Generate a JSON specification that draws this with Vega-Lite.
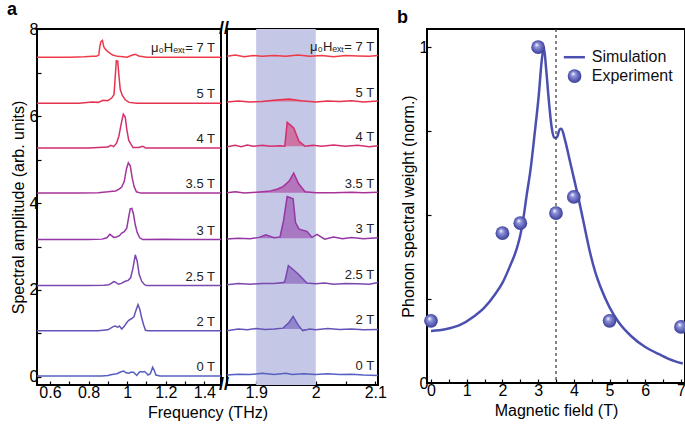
{
  "$schema": "https://vega.github.io/schema/vega-lite/v6.json",
  "padding": {"left": 6, "top": 0, "right": 0, "bottom": 2},
  "config": {
    "font": "Liberation Sans",
    "view": {"stroke": "#000", "strokeWidth": 2},
    "axis": {"domain": false, "grid": false, "ticks": true, "tickColor": "#000", "tickSize": -4, "tickWidth": 1.2,
      "labelColor": "#000", "labelFontSize": 16, "labelFont": "Liberation Sans", "titleFont": "Liberation Sans",
      "titleFontSize": 16, "titleFontWeight": "normal", "titleColor": "#000", "labelPadding": 3, "labelOverlap": false},
    "text": {"font": "Liberation Sans"},
    "title": {"font": "Liberation Sans", "color": "#000"}
  },
  "datasets": {
    "left": [
      {"h":"0 T","f":0.533,"a":0.02},{"h":"0 T","f":0.6,"a":0.02},{"h":"0 T","f":0.7,"a":0.02},{"h":"0 T","f":0.8,"a":0.02},{"h":"0 T","f":0.869,"a":0.02},{"h":"0 T","f":0.9,"a":0.03},{"h":"0 T","f":0.921,"a":0.05},{"h":"0 T","f":0.947,"a":0.07},{"h":"0 T","f":0.965,"a":0.11},{"h":"0 T","f":0.982,"a":0.13},{"h":"0 T","f":0.995,"a":0.09},{"h":"0 T","f":1.008,"a":0.08},{"h":"0 T","f":1.022,"a":0.11},{"h":"0 T","f":1.034,"a":0.1},{"h":"0 T","f":1.05,"a":0.03},{"h":"0 T","f":1.06,"a":0.09},{"h":"0 T","f":1.068,"a":0.12},{"h":"0 T","f":1.08,"a":0.11},{"h":"0 T","f":1.09,"a":0.12},{"h":"0 T","f":1.1,"a":0.08},{"h":"0 T","f":1.108,"a":0.04},{"h":"0 T","f":1.12,"a":0.07},{"h":"0 T","f":1.132,"a":0.22},{"h":"0 T","f":1.14,"a":0.15},{"h":"0 T","f":1.149,"a":0.04},{"h":"0 T","f":1.17,"a":0.02},{"h":"0 T","f":1.25,"a":0.02},{"h":"0 T","f":1.35,"a":0.02},{"h":"0 T","f":1.486,"a":0.02},
      {"h":"2 T","f":0.533,"a":1.06},{"h":"2 T","f":0.7,"a":1.06},{"h":"2 T","f":0.85,"a":1.06},{"h":"2 T","f":0.9,"a":1.08},{"h":"2 T","f":0.915,"a":1.12},{"h":"2 T","f":0.93,"a":1.16},{"h":"2 T","f":0.94,"a":1.17},{"h":"2 T","f":0.95,"a":1.14},{"h":"2 T","f":0.96,"a":1.17},{"h":"2 T","f":0.972,"a":1.1},{"h":"2 T","f":0.985,"a":1.16},{"h":"2 T","f":0.998,"a":1.25},{"h":"2 T","f":1.008,"a":1.3},{"h":"2 T","f":1.02,"a":1.33},{"h":"2 T","f":1.035,"a":1.38},{"h":"2 T","f":1.045,"a":1.52},{"h":"2 T","f":1.056,"a":1.66},{"h":"2 T","f":1.065,"a":1.56},{"h":"2 T","f":1.075,"a":1.36},{"h":"2 T","f":1.085,"a":1.2},{"h":"2 T","f":1.095,"a":1.07},{"h":"2 T","f":1.11,"a":1.06},{"h":"2 T","f":1.2,"a":1.06},{"h":"2 T","f":1.3,"a":1.06},{"h":"2 T","f":1.486,"a":1.06},
      {"h":"2.5 T","f":0.533,"a":2.1},{"h":"2.5 T","f":0.8,"a":2.1},{"h":"2.5 T","f":0.88,"a":2.11},{"h":"2.5 T","f":0.905,"a":2.12},{"h":"2.5 T","f":0.918,"a":2.15},{"h":"2.5 T","f":0.93,"a":2.19},{"h":"2.5 T","f":0.94,"a":2.18},{"h":"2.5 T","f":0.955,"a":2.13},{"h":"2.5 T","f":0.97,"a":2.15},{"h":"2.5 T","f":0.99,"a":2.2},{"h":"2.5 T","f":1.005,"a":2.22},{"h":"2.5 T","f":1.018,"a":2.28},{"h":"2.5 T","f":1.03,"a":2.5},{"h":"2.5 T","f":1.042,"a":2.81},{"h":"2.5 T","f":1.052,"a":2.66},{"h":"2.5 T","f":1.062,"a":2.36},{"h":"2.5 T","f":1.075,"a":2.2},{"h":"2.5 T","f":1.09,"a":2.12},{"h":"2.5 T","f":1.1,"a":2.1},{"h":"2.5 T","f":1.2,"a":2.1},{"h":"2.5 T","f":1.486,"a":2.1},
      {"h":"3 T","f":0.533,"a":3.16},{"h":"3 T","f":0.8,"a":3.16},{"h":"3 T","f":0.87,"a":3.17},{"h":"3 T","f":0.895,"a":3.2},{"h":"3 T","f":0.91,"a":3.28},{"h":"3 T","f":0.92,"a":3.25},{"h":"3 T","f":0.93,"a":3.21},{"h":"3 T","f":0.945,"a":3.22},{"h":"3 T","f":0.96,"a":3.25},{"h":"3 T","f":0.972,"a":3.31},{"h":"3 T","f":0.985,"a":3.34},{"h":"3 T","f":0.998,"a":3.42},{"h":"3 T","f":1.008,"a":3.68},{"h":"3 T","f":1.016,"a":3.87},{"h":"3 T","f":1.024,"a":3.88},{"h":"3 T","f":1.032,"a":3.76},{"h":"3 T","f":1.042,"a":3.5},{"h":"3 T","f":1.052,"a":3.32},{"h":"3 T","f":1.065,"a":3.2},{"h":"3 T","f":1.08,"a":3.16},{"h":"3 T","f":1.2,"a":3.17},{"h":"3 T","f":1.3,"a":3.16},{"h":"3 T","f":1.486,"a":3.16},
      {"h":"3.5 T","f":0.533,"a":4.23},{"h":"3.5 T","f":0.75,"a":4.23},{"h":"3.5 T","f":0.85,"a":4.24},{"h":"3.5 T","f":0.9,"a":4.26},{"h":"3.5 T","f":0.94,"a":4.28},{"h":"3.5 T","f":0.958,"a":4.32},{"h":"3.5 T","f":0.972,"a":4.37},{"h":"3.5 T","f":0.985,"a":4.5},{"h":"3.5 T","f":0.996,"a":4.78},{"h":"3.5 T","f":1.006,"a":4.93},{"h":"3.5 T","f":1.016,"a":4.86},{"h":"3.5 T","f":1.026,"a":4.58},{"h":"3.5 T","f":1.036,"a":4.38},{"h":"3.5 T","f":1.048,"a":4.26},{"h":"3.5 T","f":1.07,"a":4.23},{"h":"3.5 T","f":1.2,"a":4.23},{"h":"3.5 T","f":1.486,"a":4.23},
      {"h":"4 T","f":0.533,"a":5.27},{"h":"4 T","f":0.8,"a":5.27},{"h":"4 T","f":0.9,"a":5.29},{"h":"4 T","f":0.915,"a":5.33},{"h":"4 T","f":0.93,"a":5.3},{"h":"4 T","f":0.945,"a":5.38},{"h":"4 T","f":0.957,"a":5.54},{"h":"4 T","f":0.968,"a":5.8},{"h":"4 T","f":0.98,"a":6.05},{"h":"4 T","f":0.99,"a":5.98},{"h":"4 T","f":0.998,"a":5.7},{"h":"4 T","f":1.008,"a":5.45},{"h":"4 T","f":1.018,"a":5.37},{"h":"4 T","f":1.03,"a":5.28},{"h":"4 T","f":1.06,"a":5.28},{"h":"4 T","f":1.08,"a":5.31},{"h":"4 T","f":1.095,"a":5.27},{"h":"4 T","f":1.2,"a":5.27},{"h":"4 T","f":1.486,"a":5.27},
      {"h":"5 T","f":0.533,"a":6.3},{"h":"5 T","f":0.75,"a":6.3},{"h":"5 T","f":0.82,"a":6.33},{"h":"5 T","f":0.85,"a":6.32},{"h":"5 T","f":0.875,"a":6.37},{"h":"5 T","f":0.9,"a":6.36},{"h":"5 T","f":0.92,"a":6.42},{"h":"5 T","f":0.932,"a":6.5},{"h":"5 T","f":0.938,"a":6.9},{"h":"5 T","f":0.944,"a":7.28},{"h":"5 T","f":0.951,"a":7.27},{"h":"5 T","f":0.957,"a":6.95},{"h":"5 T","f":0.964,"a":6.62},{"h":"5 T","f":0.975,"a":6.48},{"h":"5 T","f":0.99,"a":6.38},{"h":"5 T","f":1.01,"a":6.32},{"h":"5 T","f":1.05,"a":6.3},{"h":"5 T","f":1.2,"a":6.3},{"h":"5 T","f":1.486,"a":6.3},
      {"h":"7 T","f":0.533,"a":7.36},{"h":"7 T","f":0.7,"a":7.36},{"h":"7 T","f":0.78,"a":7.37},{"h":"7 T","f":0.82,"a":7.38},{"h":"7 T","f":0.84,"a":7.38},{"h":"7 T","f":0.853,"a":7.41},{"h":"7 T","f":0.858,"a":7.6},{"h":"7 T","f":0.864,"a":7.72},{"h":"7 T","f":0.872,"a":7.75},{"h":"7 T","f":0.879,"a":7.6},{"h":"7 T","f":0.888,"a":7.54},{"h":"7 T","f":0.905,"a":7.47},{"h":"7 T","f":0.925,"a":7.41},{"h":"7 T","f":0.95,"a":7.38},{"h":"7 T","f":0.98,"a":7.37},{"h":"7 T","f":1.0,"a":7.36},{"h":"7 T","f":1.02,"a":7.4},{"h":"7 T","f":1.04,"a":7.43},{"h":"7 T","f":1.06,"a":7.39},{"h":"7 T","f":1.1,"a":7.36},{"h":"7 T","f":1.486,"a":7.36}
    ],
    "right": [
      {"h":"0 T","f":1.851,"a":0.04},{"h":"0 T","f":1.87,"a":0.06},{"h":"0 T","f":1.89,"a":0.05},{"h":"0 T","f":1.91,"a":0.08},{"h":"0 T","f":1.93,"a":0.05},{"h":"0 T","f":1.95,"a":0.08},{"h":"0 T","f":1.96,"a":0.05},{"h":"0 T","f":1.98,"a":0.07},{"h":"0 T","f":2.0,"a":0.05},{"h":"0 T","f":2.02,"a":0.07},{"h":"0 T","f":2.04,"a":0.05},{"h":"0 T","f":2.06,"a":0.06},{"h":"0 T","f":2.08,"a":0.04},{"h":"0 T","f":2.1045,"a":0.03},
      {"h":"2 T","f":1.851,"a":1.06},{"h":"2 T","f":1.87,"a":1.1},{"h":"2 T","f":1.885,"a":1.08},{"h":"2 T","f":1.9,"a":1.11},{"h":"2 T","f":1.915,"a":1.09},{"h":"2 T","f":1.93,"a":1.1},{"h":"2 T","f":1.945,"a":1.12},{"h":"2 T","f":1.955,"a":1.25},{"h":"2 T","f":1.962,"a":1.39},{"h":"2 T","f":1.97,"a":1.2},{"h":"2 T","f":1.978,"a":1.06},{"h":"2 T","f":1.99,"a":1.1},{"h":"2 T","f":2.0,"a":1.08},{"h":"2 T","f":2.02,"a":1.11},{"h":"2 T","f":2.04,"a":1.09},{"h":"2 T","f":2.06,"a":1.1},{"h":"2 T","f":2.08,"a":1.08},{"h":"2 T","f":2.1045,"a":1.09},
      {"h":"2.5 T","f":1.851,"a":2.12},{"h":"2.5 T","f":1.87,"a":2.15},{"h":"2.5 T","f":1.89,"a":2.13},{"h":"2.5 T","f":1.91,"a":2.15},{"h":"2.5 T","f":1.93,"a":2.15},{"h":"2.5 T","f":1.945,"a":2.17},{"h":"2.5 T","f":1.948,"a":2.19},{"h":"2.5 T","f":1.954,"a":2.56},{"h":"2.5 T","f":1.962,"a":2.47},{"h":"2.5 T","f":1.971,"a":2.36},{"h":"2.5 T","f":1.985,"a":2.16},{"h":"2.5 T","f":2.0,"a":2.14},{"h":"2.5 T","f":2.015,"a":2.16},{"h":"2.5 T","f":2.03,"a":2.13},{"h":"2.5 T","f":2.05,"a":2.15},{"h":"2.5 T","f":2.07,"a":2.14},{"h":"2.5 T","f":2.09,"a":2.13},{"h":"2.5 T","f":2.1045,"a":2.17},
      {"h":"3 T","f":1.851,"a":3.17},{"h":"3 T","f":1.87,"a":3.19},{"h":"3 T","f":1.89,"a":3.18},{"h":"3 T","f":1.905,"a":3.21},{"h":"3 T","f":1.916,"a":3.27},{"h":"3 T","f":1.93,"a":3.2},{"h":"3 T","f":1.94,"a":3.22},{"h":"3 T","f":1.946,"a":3.6},{"h":"3 T","f":1.952,"a":4.15},{"h":"3 T","f":1.962,"a":4.1},{"h":"3 T","f":1.966,"a":3.55},{"h":"3 T","f":1.972,"a":3.4},{"h":"3 T","f":1.985,"a":3.35},{"h":"3 T","f":1.994,"a":3.21},{"h":"3 T","f":2.002,"a":3.28},{"h":"3 T","f":2.015,"a":3.17},{"h":"3 T","f":2.03,"a":3.22},{"h":"3 T","f":2.045,"a":3.18},{"h":"3 T","f":2.06,"a":3.21},{"h":"3 T","f":2.08,"a":3.18},{"h":"3 T","f":2.1045,"a":3.2},
      {"h":"3.5 T","f":1.851,"a":4.24},{"h":"3.5 T","f":1.865,"a":4.26},{"h":"3.5 T","f":1.88,"a":4.23},{"h":"3.5 T","f":1.9,"a":4.25},{"h":"3.5 T","f":1.921,"a":4.27},{"h":"3.5 T","f":1.935,"a":4.32},{"h":"3.5 T","f":1.945,"a":4.38},{"h":"3.5 T","f":1.955,"a":4.5},{"h":"3.5 T","f":1.963,"a":4.69},{"h":"3.5 T","f":1.971,"a":4.45},{"h":"3.5 T","f":1.982,"a":4.26},{"h":"3.5 T","f":2.0,"a":4.24},{"h":"3.5 T","f":2.03,"a":4.24},{"h":"3.5 T","f":2.06,"a":4.25},{"h":"3.5 T","f":2.08,"a":4.24},{"h":"3.5 T","f":2.1045,"a":4.25},
      {"h":"4 T","f":1.851,"a":5.3},{"h":"4 T","f":1.865,"a":5.33},{"h":"4 T","f":1.875,"a":5.3},{"h":"4 T","f":1.885,"a":5.34},{"h":"4 T","f":1.895,"a":5.31},{"h":"4 T","f":1.91,"a":5.33},{"h":"4 T","f":1.925,"a":5.31},{"h":"4 T","f":1.94,"a":5.32},{"h":"4 T","f":1.948,"a":5.31},{"h":"4 T","f":1.952,"a":5.86},{"h":"4 T","f":1.963,"a":5.73},{"h":"4 T","f":1.972,"a":5.42},{"h":"4 T","f":1.982,"a":5.31},{"h":"4 T","f":1.995,"a":5.33},{"h":"4 T","f":2.01,"a":5.31},{"h":"4 T","f":2.03,"a":5.34},{"h":"4 T","f":2.05,"a":5.31},{"h":"4 T","f":2.07,"a":5.33},{"h":"4 T","f":2.09,"a":5.3},{"h":"4 T","f":2.1045,"a":5.32},
      {"h":"5 T","f":1.851,"a":6.33},{"h":"5 T","f":1.87,"a":6.35},{"h":"5 T","f":1.89,"a":6.33},{"h":"5 T","f":1.91,"a":6.34},{"h":"5 T","f":1.93,"a":6.37},{"h":"5 T","f":1.955,"a":6.4},{"h":"5 T","f":1.975,"a":6.36},{"h":"5 T","f":2.0,"a":6.33},{"h":"5 T","f":2.02,"a":6.35},{"h":"5 T","f":2.04,"a":6.34},{"h":"5 T","f":2.06,"a":6.36},{"h":"5 T","f":2.08,"a":6.33},{"h":"5 T","f":2.1045,"a":6.35},
      {"h":"7 T","f":1.851,"a":7.38},{"h":"7 T","f":1.865,"a":7.41},{"h":"7 T","f":1.88,"a":7.37},{"h":"7 T","f":1.895,"a":7.4},{"h":"7 T","f":1.91,"a":7.38},{"h":"7 T","f":1.93,"a":7.4},{"h":"7 T","f":1.95,"a":7.38},{"h":"7 T","f":1.97,"a":7.41},{"h":"7 T","f":1.99,"a":7.38},{"h":"7 T","f":2.01,"a":7.4},{"h":"7 T","f":2.03,"a":7.37},{"h":"7 T","f":2.05,"a":7.4},{"h":"7 T","f":2.07,"a":7.39},{"h":"7 T","f":2.09,"a":7.38},{"h":"7 T","f":2.1045,"a":7.4}
    ],
    "labels": [
      {"h":"0 T","t":"0 T","bL":0.02,"bR":0.05},
      {"h":"2 T","t":"2 T","bL":1.06,"bR":1.1},
      {"h":"2.5 T","t":"2.5 T","bL":2.1,"bR":2.14},
      {"h":"3 T","t":"3 T","bL":3.16,"bR":3.19},
      {"h":"3.5 T","t":"3.5 T","bL":4.23,"bR":4.24},
      {"h":"4 T","t":"4 T","bL":5.27,"bR":5.31},
      {"h":"5 T","t":"5 T","bL":6.3,"bR":6.34},
      {"h":"7 T","t":"μ₀Hₑₓₜ= 7 T","bL":7.36,"bR":7.39}
    ],
    "experiment": [
      {"B":0,"w":0.185},{"B":2,"w":0.446},{"B":2.5,"w":0.476},{"B":3,"w":1.0},{"B":3.5,"w":0.506},{"B":4,"w":0.554},{"B":5,"w":0.185},{"B":7,"w":0.167}
    ],
    "simulation": [
      {"B":0,"w":0.155},{"B":0.4,"w":0.16},{"B":0.8,"w":0.172},{"B":1.2,"w":0.198},{"B":1.5,"w":0.225},{"B":1.8,"w":0.265},{"B":2.0,"w":0.298},{"B":2.2,"w":0.345},{"B":2.4,"w":0.4},{"B":2.5,"w":0.44},{"B":2.6,"w":0.5},{"B":2.68,"w":0.56},{"B":2.78,"w":0.63},{"B":2.9,"w":0.74},{"B":3.02,"w":0.86},{"B":3.1,"w":0.96},{"B":3.16,"w":1.0},{"B":3.22,"w":0.94},{"B":3.3,"w":0.84},{"B":3.38,"w":0.76},{"B":3.45,"w":0.73},{"B":3.53,"w":0.732},{"B":3.6,"w":0.755},{"B":3.65,"w":0.757},{"B":3.76,"w":0.72},{"B":3.88,"w":0.665},{"B":4.0,"w":0.61},{"B":4.15,"w":0.54},{"B":4.28,"w":0.475},{"B":4.45,"w":0.39},{"B":4.6,"w":0.33},{"B":4.75,"w":0.285},{"B":5.0,"w":0.225},{"B":5.26,"w":0.18},{"B":5.6,"w":0.14},{"B":6.0,"w":0.107},{"B":6.4,"w":0.085},{"B":6.8,"w":0.066},{"B":7.05,"w":0.058}
    ]
  },
  "bounds": "flush",
  "spacing": 6,
  "resolve": {"scale": {"x": "independent", "y": "independent", "color": "independent"}},
  "hconcat": [
    {
      "width": 184, "height": 356,
      "title": {"text": "a", "anchor": "start", "frame": "bounds", "fontSize": 18, "fontWeight": "bold", "offset": 1, "dx": -3},
      "layer": [
        {
          "data": {"name": "left"},
          "mark": {"type": "line", "strokeWidth": 1.5, "clip": true},
          "encoding": {
            "x": {"field": "f", "type": "quantitative", "scale": {"domain": [0.533, 1.486], "nice": false, "zero": false},
              "axis": {"title": "Frequency (THz)", "titleX": 170.5, "titleAlign": "center", "values": [0.6,0.7,0.8,0.9,1,1.1,1.2,1.3,1.4], "labelExpr": "round(datum.value*10)%2==0 ? format(datum.value,'') : ''"}},
            "y": {"field": "a", "type": "quantitative", "scale": {"domain": [-0.19, 8.01], "nice": false, "zero": false},
              "axis": {"title": "Spectral amplitude (arb. units)", "values": [0,1,2,3,4,5,6,7,8], "labelExpr": "datum.value%2==0 ? format(datum.value,'') : ''", "titlePadding": 3}},
            "color": {"field": "h", "type": "nominal", "legend": null,
              "scale": {"domain": ["0 T","2 T","2.5 T","3 T","3.5 T","4 T","5 T","7 T"], "range": ["#5560c0","#6652b8","#7b48b0","#9436a6","#a8329a","#d32f6e","#e5334f","#ef3a48"]}}
          }
        },
        {
          "data": {"name": "labels"},
          "mark": {"type": "text", "align": "right", "baseline": "bottom", "dy": -2, "fontSize": 13, "color": "#222"},
          "encoding": {
            "x": {"datum": 1.455, "axis": {"title": "Frequency (THz)", "titleX": 170.5, "titleAlign": "center", "values": [0.6,0.7,0.8,0.9,1,1.1,1.2,1.3,1.4], "labelExpr": "round(datum.value*10)%2==0 ? format(datum.value,'') : ''"}},
            "y": {"field": "bL", "type": "quantitative", "axis": {"title": "Spectral amplitude (arb. units)", "values": [0,1,2,3,4,5,6,7,8], "labelExpr": "datum.value%2==0 ? format(datum.value,'') : ''", "titlePadding": 3}},
            "text": {"field": "t"}}
        },
        {
          "data": {"values": [{"y": 8.01}, {"y": -0.19}]},
          "mark": {"type": "text", "text": "//", "fontSize": 18, "fontWeight": "bold", "clip": false, "dx": 3, "align": "center", "baseline": "middle"},
          "encoding": {
            "x": {"datum": 1.486, "axis": {"title": "Frequency (THz)", "titleX": 170.5, "titleAlign": "center", "values": [0.6,0.7,0.8,0.9,1,1.1,1.2,1.3,1.4], "labelExpr": "round(datum.value*10)%2==0 ? format(datum.value,'') : ''"}},
            "y": {"field": "y", "type": "quantitative", "axis": {"title": "Spectral amplitude (arb. units)", "values": [0,1,2,3,4,5,6,7,8], "labelExpr": "datum.value%2==0 ? format(datum.value,'') : ''", "titlePadding": 3}}}
        }
      ]
    },
    {
      "width": 151, "height": 356,
      "layer": [
        {
          "data": {"values": [{"x1": 1.9, "x2": 2.0}]},
          "mark": {"type": "rect", "color": "#c4c7e6"},
          "encoding": {"x": {"field": "x1", "type": "quantitative", "scale": {"domain": [1.851, 2.1045], "nice": false, "zero": false},
              "axis": {"title": null, "values": [1.9,1.95,2,2.05,2.1], "labelExpr": "abs(datum.value*10-round(datum.value*10))<0.01 ? format(datum.value,'') : ''"}},
            "x2": {"field": "x2"}}
        },
        {
          "data": {"name": "right"},
          "transform": [
            {"filter": "datum.f >= 1.9 && datum.f <= 2.0 && datum.h != '0 T' && datum.h != '7 T'"},
            {"lookup": "h", "from": {"data": {"name": "labels"}, "key": "h", "fields": ["bR"]}}
          ],
          "mark": {"type": "area", "opacity": 0.55},
          "encoding": {
            "x": {"field": "f", "type": "quantitative", "axis": {"title": null, "values": [1.9,1.95,2,2.05,2.1], "labelExpr": "abs(datum.value*10-round(datum.value*10))<0.01 ? format(datum.value,'') : ''"}},
            "y": {"field": "a", "type": "quantitative", "scale": {"domain": [-0.19, 8.01], "nice": false, "zero": false}, "axis": null},
            "y2": {"field": "bR"},
            "color": {"field": "h", "type": "nominal", "legend": null,
              "scale": {"domain": ["0 T","2 T","2.5 T","3 T","3.5 T","4 T","5 T","7 T"], "range": ["#5560c0","#6652b8","#7b48b0","#9436a6","#a8329a","#d32f6e","#e5334f","#ef3a48"]}}
          }
        },
        {
          "data": {"name": "right"},
          "mark": {"type": "line", "strokeWidth": 1.5, "clip": true},
          "encoding": {
            "x": {"field": "f", "type": "quantitative", "axis": {"title": null, "values": [1.9,1.95,2,2.05,2.1], "labelExpr": "abs(datum.value*10-round(datum.value*10))<0.01 ? format(datum.value,'') : ''"}},
            "y": {"field": "a", "type": "quantitative", "axis": null},
            "color": {"field": "h", "type": "nominal", "legend": null}
          }
        },
        {
          "data": {"name": "labels"},
          "mark": {"type": "text", "align": "right", "baseline": "bottom", "dy": -2, "fontSize": 13, "color": "#222"},
          "encoding": {
            "x": {"datum": 2.098, "axis": {"title": null, "values": [1.9,1.95,2,2.05,2.1], "labelExpr": "abs(datum.value*10-round(datum.value*10))<0.01 ? format(datum.value,'') : ''"}},
            "y": {"field": "bR", "type": "quantitative", "axis": null},
            "text": {"field": "t"}}
        }
      ]
    },
    {
      "width": 37, "height": 354,
      "view": {"stroke": null},
      "data": {"values": [{}]},
      "mark": {"type": "point", "opacity": 0},
      "encoding": {}
    },
    {
      "width": 258, "height": 354,
      "title": {"text": "b", "anchor": "start", "frame": "bounds", "fontSize": 18, "fontWeight": "bold", "offset": 1, "dx": -3},
      "layer": [
        {
          "data": {"name": "simulation"},
          "mark": {"type": "line", "color": "#4b50b0", "strokeWidth": 2.5, "interpolate": "monotone"},
          "encoding": {
            "x": {"field": "B", "type": "quantitative", "scale": {"domain": [-0.112, 7.112], "nice": false, "zero": false},
              "axis": {"title": "Magnetic field (T)", "values": [0,0.5,1,1.5,2,2.5,3,3.5,4,4.5,5,5.5,6,6.5,7], "labelExpr": "datum.value%1==0 ? format(datum.value,'') : ''"}},
            "y": {"field": "w", "type": "quantitative", "scale": {"domain": [0, 1.054], "nice": false, "zero": false},
              "axis": {"title": "Phonon spectral weight (norm.)", "values": [0,0.25,0.5,0.75,1], "labelExpr": "datum.value==0 || datum.value==1 ? format(datum.value,'') : ''", "titlePadding": 3}}
          }
        },
        {
          "data": {"values": [{"x": 3.5}]},
          "mark": {"type": "rule", "strokeDash": [3, 3], "color": "#333", "strokeWidth": 1.2},
          "encoding": {"x": {"field": "x", "type": "quantitative",
            "axis": {"title": "Magnetic field (T)", "values": [0,0.5,1,1.5,2,2.5,3,3.5,4,4.5,5,5.5,6,6.5,7], "labelExpr": "datum.value%1==0 ? format(datum.value,'') : ''"}}}
        },
        {
          "data": {"name": "experiment"},
          "mark": {"type": "point", "shape": "circle", "filled": true, "size": 190, "opacity": 1, "clip": false,
            "fill": {"gradient": "radial", "x1": 0.38, "y1": 0.32, "r1": 0, "x2": 0.5, "y2": 0.5, "r2": 0.55,
              "stops": [{"offset": 0, "color": "#ffffff"}, {"offset": 0.3, "color": "#8e92da"}, {"offset": 1, "color": "#2f3490"}]}},
          "encoding": {
            "x": {"field": "B", "type": "quantitative", "axis": {"title": "Magnetic field (T)", "values": [0,0.5,1,1.5,2,2.5,3,3.5,4,4.5,5,5.5,6,6.5,7], "labelExpr": "datum.value%1==0 ? format(datum.value,'') : ''"}},
            "y": {"field": "w", "type": "quantitative", "axis": {"title": "Phonon spectral weight (norm.)", "values": [0,0.25,0.5,0.75,1], "labelExpr": "datum.value==0 || datum.value==1 ? format(datum.value,'') : ''", "titlePadding": 3}}}
        },
        {
          "data": {"values": [{}]},
          "mark": {"type": "rule", "color": "#4b50b0", "strokeWidth": 2.5},
          "encoding": {
            "x": {"datum": 3.72, "axis": {"title": "Magnetic field (T)", "values": [0,0.5,1,1.5,2,2.5,3,3.5,4,4.5,5,5.5,6,6.5,7], "labelExpr": "datum.value%1==0 ? format(datum.value,'') : ''"}},
            "x2": {"datum": 4.31},
            "y": {"datum": 0.97, "axis": {"title": "Phonon spectral weight (norm.)", "values": [0,0.25,0.5,0.75,1], "labelExpr": "datum.value==0 || datum.value==1 ? format(datum.value,'') : ''", "titlePadding": 3}}}
        },
        {
          "data": {"values": [{}]},
          "mark": {"type": "point", "shape": "circle", "filled": true, "size": 190, "opacity": 1,
            "fill": {"gradient": "radial", "x1": 0.38, "y1": 0.32, "r1": 0, "x2": 0.5, "y2": 0.5, "r2": 0.55,
              "stops": [{"offset": 0, "color": "#ffffff"}, {"offset": 0.3, "color": "#8e92da"}, {"offset": 1, "color": "#2f3490"}]}},
          "encoding": {
            "x": {"datum": 4.02, "axis": {"title": "Magnetic field (T)", "values": [0,0.5,1,1.5,2,2.5,3,3.5,4,4.5,5,5.5,6,6.5,7], "labelExpr": "datum.value%1==0 ? format(datum.value,'') : ''"}},
            "y": {"datum": 0.914, "axis": {"title": "Phonon spectral weight (norm.)", "values": [0,0.25,0.5,0.75,1], "labelExpr": "datum.value==0 || datum.value==1 ? format(datum.value,'') : ''", "titlePadding": 3}}}
        },
        {
          "data": {"values": [{"t": "Simulation", "y": 0.97}, {"t": "Experiment", "y": 0.914}]},
          "mark": {"type": "text", "align": "left", "baseline": "middle", "fontSize": 16, "color": "#111"},
          "encoding": {
            "x": {"datum": 4.5, "axis": {"title": "Magnetic field (T)", "values": [0,0.5,1,1.5,2,2.5,3,3.5,4,4.5,5,5.5,6,6.5,7], "labelExpr": "datum.value%1==0 ? format(datum.value,'') : ''"}},
            "y": {"field": "y", "type": "quantitative", "axis": {"title": "Phonon spectral weight (norm.)", "values": [0,0.25,0.5,0.75,1], "labelExpr": "datum.value==0 || datum.value==1 ? format(datum.value,'') : ''", "titlePadding": 3}},
            "text": {"field": "t"}}
        }
      ]
    }
  ]
}
